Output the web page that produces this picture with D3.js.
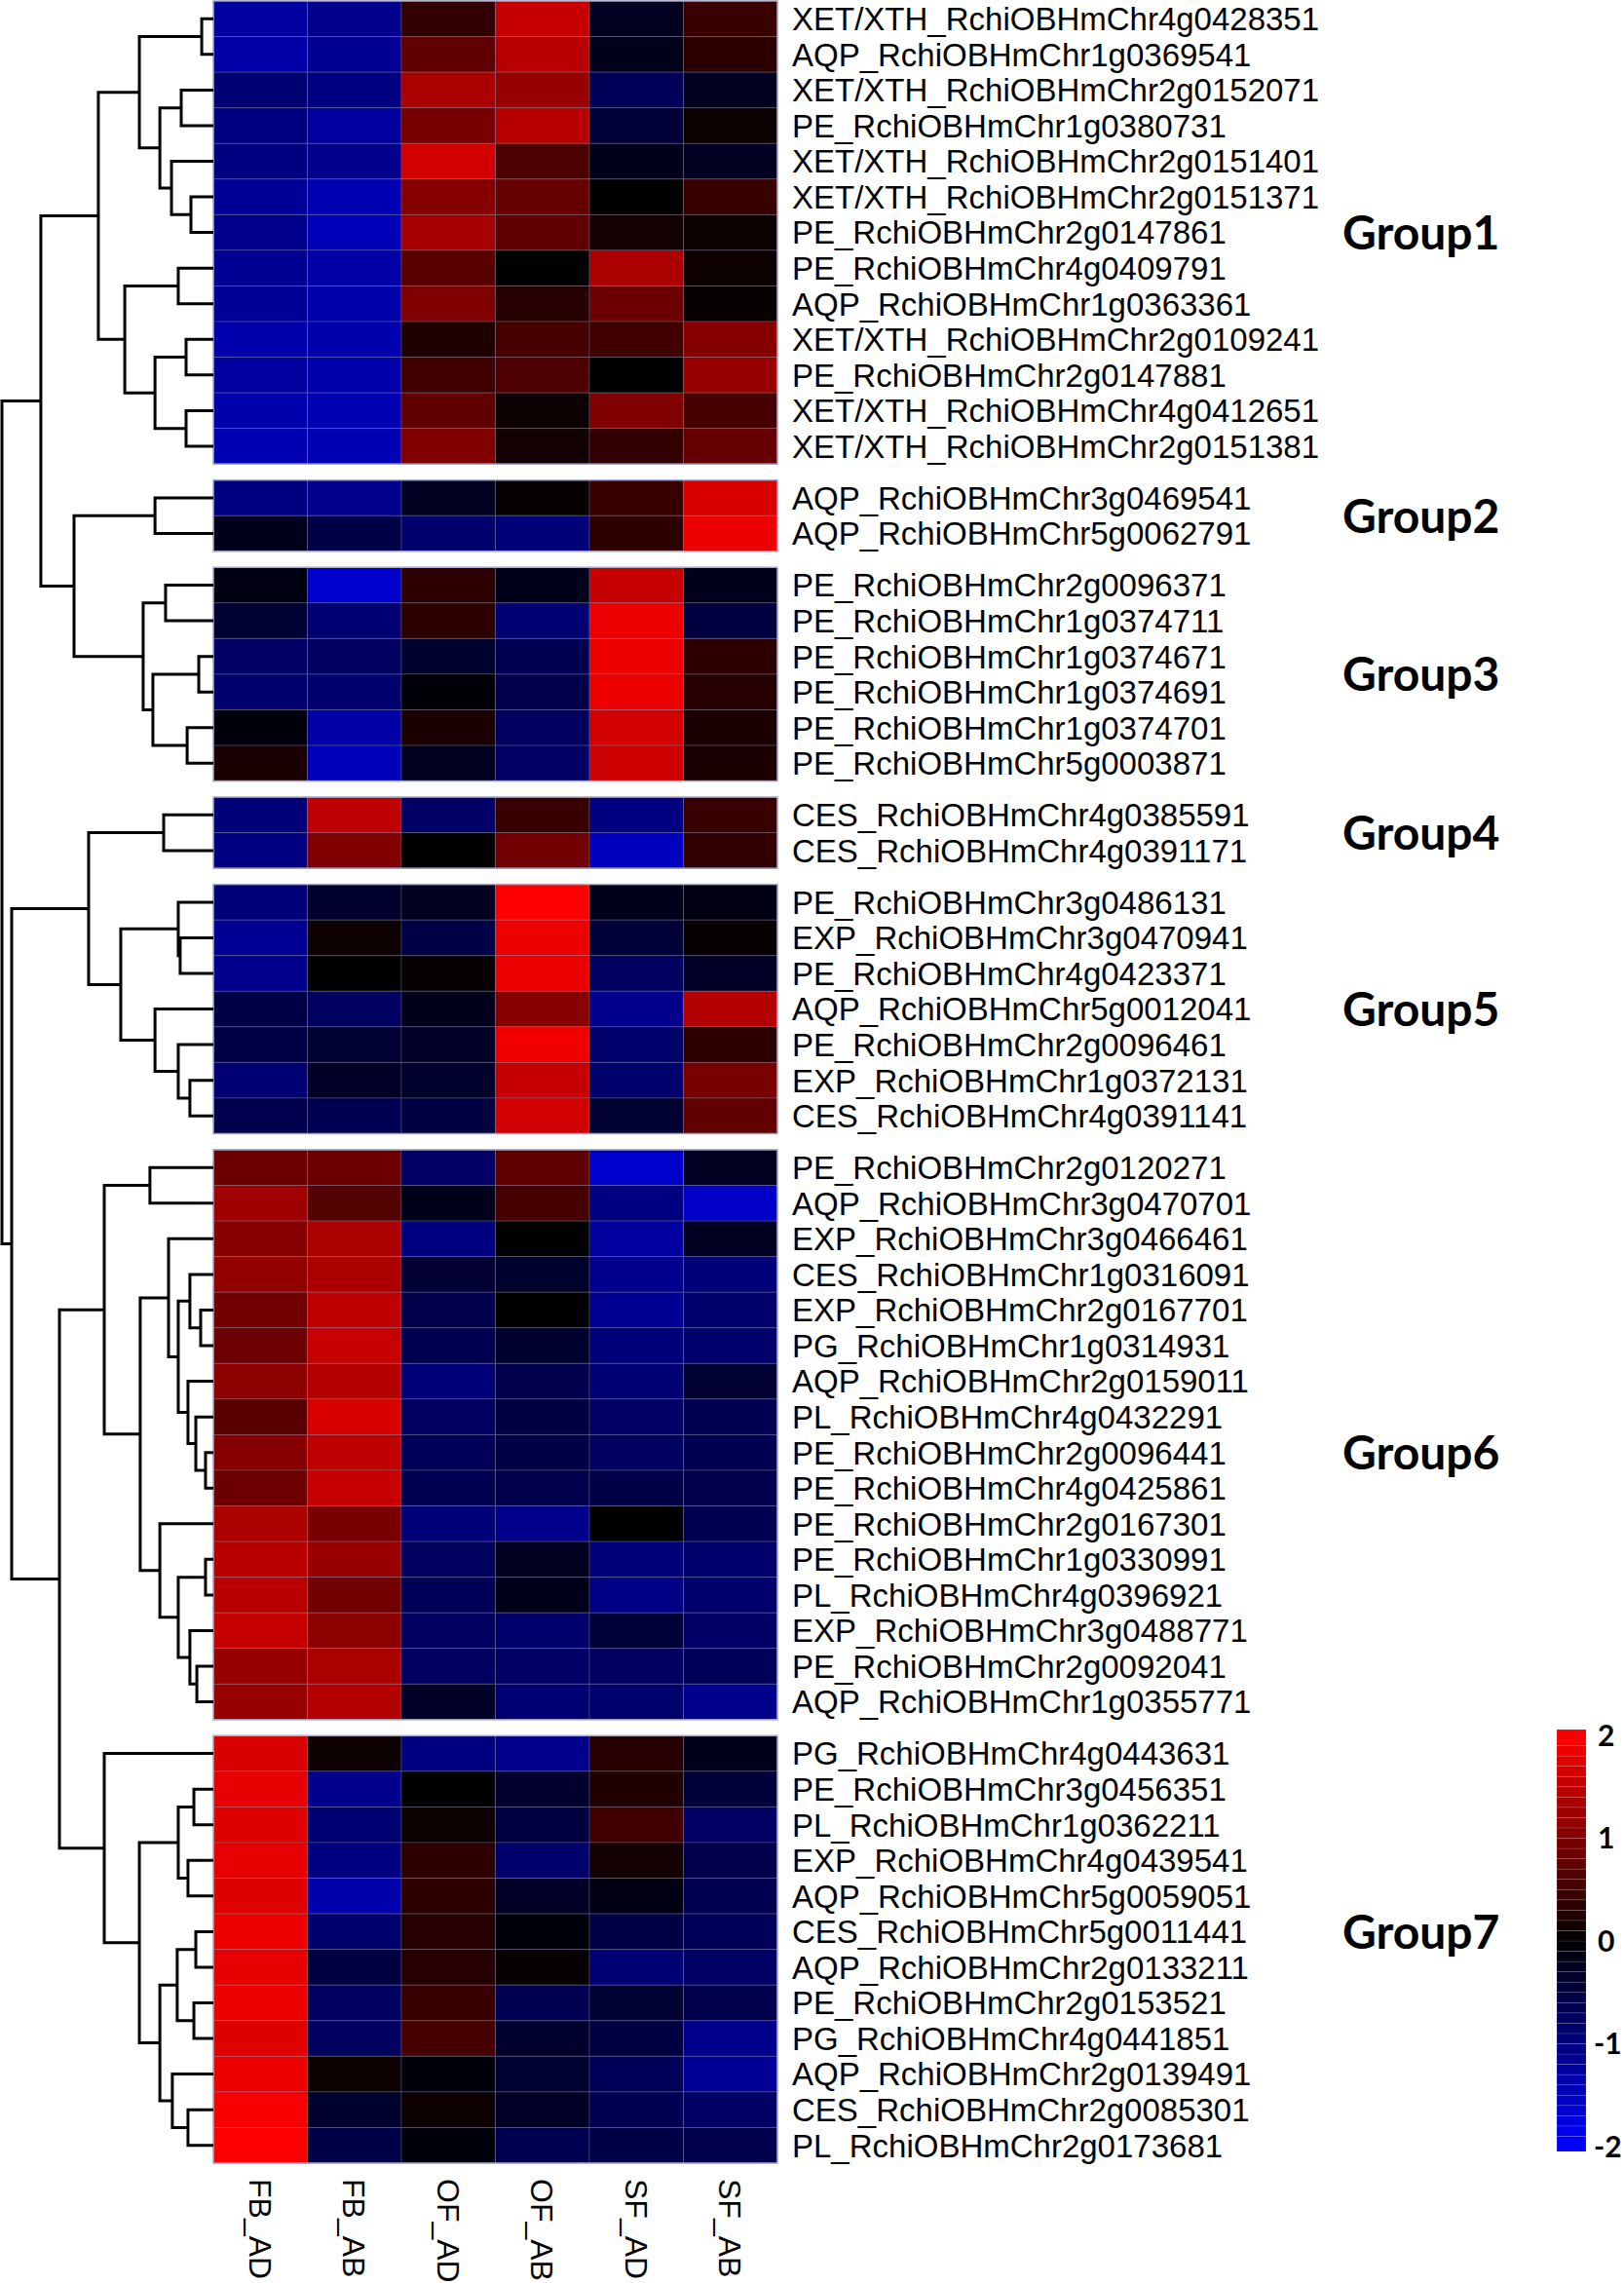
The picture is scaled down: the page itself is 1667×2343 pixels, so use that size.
<!DOCTYPE html>
<html>
<head>
<meta charset="utf-8">
<script src="https://cdn.jsdelivr.net/npm/d3@7"></script>
<style>
  body { margin: 0; background: #fff; }
</style>
</head>
<body>
<svg id="chart"></svg>
<script>
const columns = ["FB_AD", "FB_AB", "OF_AD", "OF_AB", "SF_AD", "SF_AB"];
const groupNames = ["Group1", "Group2", "Group3", "Group4", "Group5", "Group6", "Group7"];
const groupSizes = [13, 2, 6, 2, 7, 16, 12];
const groupLabelRow = [6, 0.5, 2.5, 0.5, 3, 8, 5]; // row (within group) the label sits on
const legendTicks = [2, 1, 0, -1, -2];

const genes = [
  "XET/XTH_RchiOBHmChr4g0428351", "AQP_RchiOBHmChr1g0369541", "XET/XTH_RchiOBHmChr2g0152071",
  "PE_RchiOBHmChr1g0380731", "XET/XTH_RchiOBHmChr2g0151401", "XET/XTH_RchiOBHmChr2g0151371",
  "PE_RchiOBHmChr2g0147861", "PE_RchiOBHmChr4g0409791", "AQP_RchiOBHmChr1g0363361",
  "XET/XTH_RchiOBHmChr2g0109241", "PE_RchiOBHmChr2g0147881", "XET/XTH_RchiOBHmChr4g0412651",
  "XET/XTH_RchiOBHmChr2g0151381",
  "AQP_RchiOBHmChr3g0469541", "AQP_RchiOBHmChr5g0062791",
  "PE_RchiOBHmChr2g0096371", "PE_RchiOBHmChr1g0374711", "PE_RchiOBHmChr1g0374671",
  "PE_RchiOBHmChr1g0374691", "PE_RchiOBHmChr1g0374701", "PE_RchiOBHmChr5g0003871",
  "CES_RchiOBHmChr4g0385591", "CES_RchiOBHmChr4g0391171",
  "PE_RchiOBHmChr3g0486131", "EXP_RchiOBHmChr3g0470941", "PE_RchiOBHmChr4g0423371",
  "AQP_RchiOBHmChr5g0012041", "PE_RchiOBHmChr2g0096461", "EXP_RchiOBHmChr1g0372131",
  "CES_RchiOBHmChr4g0391141",
  "PE_RchiOBHmChr2g0120271", "AQP_RchiOBHmChr3g0470701", "EXP_RchiOBHmChr3g0466461",
  "CES_RchiOBHmChr1g0316091", "EXP_RchiOBHmChr2g0167701", "PG_RchiOBHmChr1g0314931",
  "AQP_RchiOBHmChr2g0159011", "PL_RchiOBHmChr4g0432291", "PE_RchiOBHmChr2g0096441",
  "PE_RchiOBHmChr4g0425861", "PE_RchiOBHmChr2g0167301", "PE_RchiOBHmChr1g0330991",
  "PL_RchiOBHmChr4g0396921", "EXP_RchiOBHmChr3g0488771", "PE_RchiOBHmChr2g0092041",
  "AQP_RchiOBHmChr1g0355771",
  "PG_RchiOBHmChr4g0443631", "PE_RchiOBHmChr3g0456351", "PL_RchiOBHmChr1g0362211",
  "EXP_RchiOBHmChr4g0439541", "AQP_RchiOBHmChr5g0059051", "CES_RchiOBHmChr5g0011441",
  "AQP_RchiOBHmChr2g0133211", "PE_RchiOBHmChr2g0153521", "PG_RchiOBHmChr4g0441851",
  "AQP_RchiOBHmChr2g0139491", "CES_RchiOBHmChr2g0085301", "PL_RchiOBHmChr2g0173681"
];

// z-scores, one row per gene, columns in the order above
const values = [
  [-1.25, -1.1, 0.4, 1.55, -0.25, 0.45],
  [-1.3, -1.15, 0.75, 1.45, -0.2, 0.35],
  [-0.9, -1.0, 1.35, 1.2, -0.7, -0.25],
  [-1.0, -1.25, 0.95, 1.45, -0.45, 0.1],
  [-1.0, -1.1, 1.65, 0.6, -0.2, -0.25],
  [-1.2, -1.4, 1.05, 0.8, 0.0, 0.45],
  [-1.1, -1.45, 1.3, 0.75, 0.15, 0.1],
  [-1.15, -1.3, 0.7, 0.0, 1.35, 0.1],
  [-1.2, -1.35, 1.0, 0.3, 0.85, 0.05],
  [-1.35, -1.35, 0.25, 0.55, 0.5, 1.05],
  [-1.25, -1.35, 0.5, 0.6, 0.0, 1.2],
  [-1.35, -1.4, 0.75, 0.1, 1.0, 0.55],
  [-1.4, -1.4, 1.0, 0.15, 0.4, 0.8],
  [-1.0, -1.1, -0.25, 0.05, 0.45, 1.7],
  [-0.2, -0.55, -0.85, -0.95, 0.35, 1.85],
  [-0.15, -1.6, 0.35, -0.2, 1.55, -0.2],
  [-0.4, -0.9, 0.35, -0.9, 1.85, -0.5],
  [-0.8, -0.75, -0.35, -0.65, 1.85, 0.35],
  [-0.85, -0.85, -0.05, -0.6, 1.85, 0.3],
  [-0.1, -1.3, 0.2, -0.75, 1.65, 0.2],
  [0.2, -1.45, -0.25, -0.8, 1.6, 0.2],
  [-0.95, 1.5, -0.8, 0.45, -1.0, 0.45],
  [-1.0, 1.0, 0.0, 0.9, -1.5, 0.4],
  [-0.95, -0.35, -0.25, 2.0, -0.2, -0.15],
  [-1.15, 0.1, -0.55, 1.85, -0.45, 0.05],
  [-1.1, 0.0, 0.05, 1.85, -0.75, -0.3],
  [-0.55, -0.75, -0.2, 1.05, -1.1, 1.4],
  [-0.55, -0.4, -0.3, 1.9, -0.85, 0.35],
  [-0.9, -0.3, -0.35, 1.55, -0.85, 0.95],
  [-0.6, -0.65, -0.5, 1.65, -0.4, 0.75],
  [0.85, 0.85, -0.8, 0.75, -1.6, -0.25],
  [1.25, 0.65, -0.2, 0.55, -1.0, -1.55],
  [1.05, 1.35, -1.0, 0.0, -1.25, -0.25],
  [1.15, 1.35, -0.4, -0.35, -1.1, -0.95],
  [0.9, 1.5, -0.6, 0.0, -1.15, -0.85],
  [0.85, 1.55, -0.65, -0.35, -0.95, -0.85],
  [1.1, 1.4, -0.95, -0.6, -0.9, -0.4],
  [0.7, 1.7, -0.75, -0.5, -0.8, -0.65],
  [1.05, 1.5, -0.7, -0.55, -0.75, -0.65],
  [0.85, 1.55, -0.65, -0.6, -0.55, -0.6],
  [1.35, 0.95, -0.95, -1.1, 0.0, -0.65],
  [1.45, 1.2, -0.75, -0.25, -0.95, -0.85],
  [1.45, 0.9, -0.7, -0.2, -1.05, -0.85],
  [1.55, 1.1, -0.75, -0.85, -0.45, -0.8],
  [1.2, 1.35, -0.75, -0.8, -0.75, -0.7],
  [1.2, 1.4, -0.3, -0.9, -0.85, -1.1],
  [1.7, 0.1, -1.0, -1.1, 0.3, -0.2],
  [1.8, -1.1, 0.0, -0.35, 0.25, -0.45],
  [1.75, -0.9, 0.1, -0.5, 0.5, -0.8],
  [1.8, -1.0, 0.35, -0.85, 0.15, -0.6],
  [1.75, -1.35, 0.35, -0.3, -0.15, -0.65],
  [1.85, -0.85, 0.3, -0.1, -0.55, -0.7],
  [1.8, -0.5, 0.3, 0.05, -0.9, -0.8],
  [1.85, -0.75, 0.45, -0.65, -0.4, -0.6],
  [1.75, -0.75, 0.55, -0.35, -0.5, -1.1],
  [1.85, 0.1, -0.1, -0.4, -0.7, -1.2],
  [1.95, -0.35, 0.1, -0.3, -0.65, -0.8],
  [2.0, -0.55, -0.1, -0.65, -0.55, -0.6]
];

// row dendrogram: [height, left, right], leaves are row indices
const dendrogram = [1.0,
  [0.816,
    [0.544,
      [0.350, [0.055, 0, 1], [0.253, [0.152, 2, 3], [0.198, 4, [0.106, 5, 6]]]],
      [0.419, [0.166, 7, 8], [0.276, [0.129, 9, 10], [0.129, 11, 12]]]],
    [0.659,
      [0.276, 13, 14],
      [0.332, [0.226, 15, 16], [0.286, [0.069, 17, 18], [0.124, 19, 20]]]]],
  [0.954,
    [0.590,
      [0.235, 21, 22],
      [0.438, [0.166, 23, [0.157, 24, 25]], [0.276, 26, [0.166, 27, [0.111, 28, 29]]]]],
    [0.728,
      [0.516,
        [0.300, 30, 31],
        [0.346,
          [0.212, 32, [0.166, [0.111, 33, [0.060, 34, 35]], [0.120, 36, [0.083, 37, [0.037, 38, 39]]]]],
          [0.253, 40, [0.166, [0.037, 41, 42], [0.111, 43, [0.078, 44, 45]]]]]],
      [0.516, 46,
        [0.350,
          [0.166, [0.092, 47, 48], [0.120, 49, 50]],
          [0.253, [0.171, [0.083, 51, 52], [0.092, 53, 54]], [0.194, 55, [0.120, 56, 57]]]]]]]
];

const width = 1667, height = 2343;
const gap = 0.45; // space between groups, in rows

const svg = d3.select("#chart")
  .attr("width", width)
  .attr("height", height);

const groupOf = [];
groupSizes.forEach((n, g) => { for (let k = 0; k < n; k++) groupOf.push(g); });
const slot = i => i + groupOf[i] * gap;

const y = d3.scaleLinear()
  .domain([0, genes.length + (groupSizes.length - 1) * gap])
  .range([1, 2220]);
const rowH = y(1) - y(0);

const x = d3.scaleBand().domain(columns).range([219, 798]);
const color = d3.scaleLinear()
  .domain([-2, 0, 2])
  .range(["#0000ff", "#000000", "#ff0000"])
  .clamp(true);

// heatmap cells
const cells = [];
values.forEach((row, i) => row.forEach((v, j) => cells.push({ i, col: columns[j], v })));

svg.append("g")
  .selectAll("rect")
  .data(cells)
  .join("rect")
  .attr("x", d => x(d.col))
  .attr("y", d => y(slot(d.i)))
  .attr("width", x.bandwidth())
  .attr("height", rowH)
  .attr("fill", d => color(d.v))
  .attr("stroke", "#7a7a9a")
  .attr("stroke-opacity", 0.35)
  .attr("stroke-width", 1);

// group outlines and labels
let start = 0;
const groups = groupSizes.map((n, g) => {
  const o = { name: groupNames[g], first: start, last: start + n - 1, labelRow: groupLabelRow[g] };
  start += n;
  return o;
});

svg.append("g")
  .selectAll("rect")
  .data(groups)
  .join("rect")
  .attr("x", x.range()[0])
  .attr("y", d => y(slot(d.first)))
  .attr("width", x.range()[1] - x.range()[0])
  .attr("height", d => y(slot(d.last) + 1) - y(slot(d.first)))
  .attr("fill", "none")
  .attr("stroke", "#a8a8c8")
  .attr("stroke-width", 1.5);

svg.append("g")
  .attr("font-family", "Lato, 'Open Sans', sans-serif")
  .attr("font-weight", "bold")
  .attr("font-size", 48)
  .selectAll("text")
  .data(groups)
  .join("text")
  .attr("x", 1378)
  .attr("y", d => y(slot(d.first) + d.labelRow + 0.5))
  .attr("dy", "0.36em")
  .text(d => d.name);

// gene labels
svg.append("g")
  .attr("font-family", "'Liberation Sans', Arial, sans-serif")
  .attr("font-size", 33)
  .selectAll("text")
  .data(genes)
  .join("text")
  .attr("x", 813)
  .attr("y", (d, i) => y(slot(i) + 0.5))
  .attr("dy", "0.36em")
  .text(d => d);

// column labels, rotated
svg.append("g")
  .attr("font-family", "'Liberation Sans', Arial, sans-serif")
  .attr("font-size", 32)
  .selectAll("text")
  .data(columns)
  .join("text")
  .attr("transform", d => `translate(${x(d) + x.bandwidth() / 2},2236) rotate(90)`)
  .attr("dy", "0.36em")
  .text(d => d);

// dendrogram
const root = d3.hierarchy(dendrogram, d => Array.isArray(d) ? d.slice(1) : null);
const dx = d3.scaleLinear().domain([0, 1]).range([219, 2]);
const h = n => n.children ? n.data[0] : 0;

root.eachAfter(n => {
  n.py = n.children
    ? (n.children[0].py + n.children[n.children.length - 1].py) / 2
    : y(slot(n.data) + 0.5);
});

svg.append("g")
  .attr("fill", "none")
  .attr("stroke", "#000")
  .attr("stroke-width", 3)
  .selectAll("path")
  .data(root.descendants().filter(n => n.children))
  .join("path")
  .attr("d", n => {
    const [a, b] = n.children;
    return `M${dx(h(a))},${a.py}H${dx(h(n))}V${b.py}H${dx(h(b))}`;
  });

// colour legend
const ly = d3.scaleLinear().domain([2, -2]).range([1781, 2203]);
const bands = d3.range(-2, 2, 0.1);
const legend = svg.append("g");

legend.selectAll("rect")
  .data(bands)
  .join("rect")
  .attr("x", 1598)
  .attr("y", d => ly(d + 0.1) - (d + 0.1 >= 2 ? 6 : 0))
  .attr("width", 30)
  .attr("height", d => ly(d) - ly(d + 0.1) + (d + 0.1 >= 2 ? 6 : 0) + (d <= -2 ? 5 : 0))
  .attr("fill", d => color(d + 0.05))
  .attr("stroke", "#ffffff")
  .attr("stroke-opacity", 0.12)
  .attr("stroke-width", 0.8);

legend.append("g")
  .attr("font-family", "Lato, 'Open Sans', sans-serif")
  .attr("font-weight", "bold")
  .attr("font-size", 30)
  .selectAll("text")
  .data(legendTicks)
  .join("text")
  .attr("x", d => d < 0 ? 1636 : 1640)
  .attr("y", d => ly(d))
  .attr("dy", "0.36em")
  .text(d => d);
</script>
</body>
</html>
